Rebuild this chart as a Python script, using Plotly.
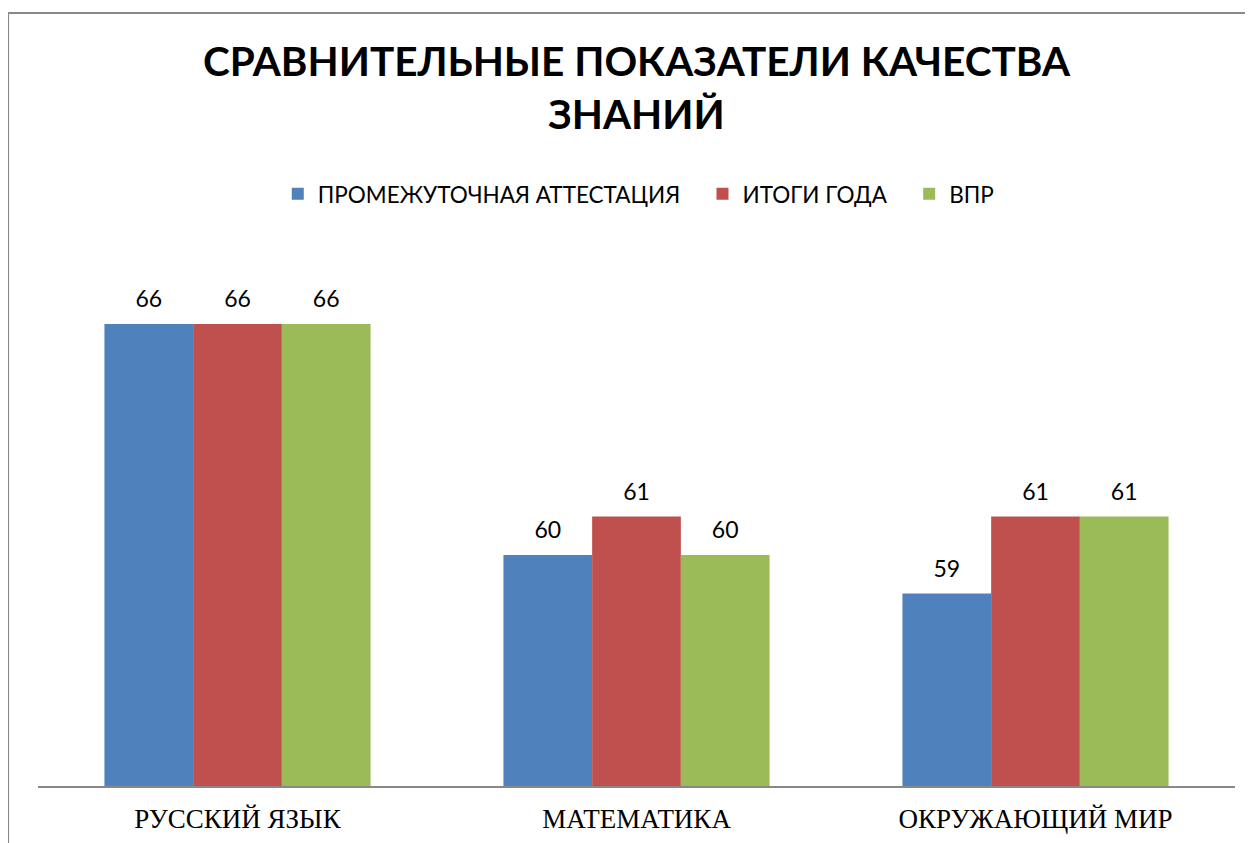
import plotly.graph_objects as go

# chart data
subjects = ["РУССКИЙ ЯЗЫК", "МАТЕМАТИКА", "ОКРУЖАЮЩИЙ МИР"]
series_names = ["ПРОМЕЖУТОЧНАЯ АТТЕСТАЦИЯ", "ИТОГИ ГОДА", "ВПР"]
interim = [66, 60, 59]
year_results = [66, 61, 61]
vpr = [66, 60, 61]
series_values = [interim, year_results, vpr]
colors = ["#4F81BD", "#C0504D", "#9BBB59"]

fig = go.Figure()

for i, (name, values, color) in enumerate(zip(series_names, series_values, colors)):
    fig.add_trace(
        go.Bar(
            x=subjects,
            y=values,
            name=name + "\u00a0" * 3,
            marker={"color": color, "line": {"width": 0}},
            offsetgroup=str(i),
        )
    )

# value labels as grouped scatters (invisible markers push the text up a bit)
for i, values in enumerate(series_values):
    fig.add_trace(
        go.Scatter(
            x=subjects,
            y=values,
            mode="markers+text",
            text=values,
            textposition="top center",
            textfont={"family": "Lato", "size": 23, "color": "black"},
            marker={"size": 16, "color": "rgba(0,0,0,0)"},
            offsetgroup=str(i),
            showlegend=False,
            cliponaxis=False,
            hoverinfo="skip",
        )
    )

# outer chart frame (cropped at right and bottom like the original)
fig.add_shape(
    type="rect",
    xref="paper",
    yref="paper",
    x0=-0.025,
    x1=1.2,
    y0=-0.3,
    y1=1.434,
    line={"color": "#898989", "width": 2},
    fillcolor="rgba(0,0,0,0)",
    layer="below",
)

fig.update_layout(
    width=1253,
    height=843,
    margin={"l": 30, "r": 26, "t": 239, "b": 65, "autoexpand": False},
    paper_bgcolor="white",
    plot_bgcolor="white",
    barmode="group",
    scattermode="group",
    bargap=0.333,
    bargroupgap=0,
    scattergap=0.333,
    title={
        "text": "<b>СРАВНИТЕЛЬНЫЕ ПОКАЗАТЕЛИ КАЧЕСТВА<br>ЗНАНИЙ</b>",
        "x": 0.5,
        "xref": "paper",
        "xanchor": "center",
        "y": 1 - 68 / 843,
        "yanchor": "top",
        "font": {"family": "Lato", "size": 40.5, "color": "black"},
    },
    legend={
        "orientation": "h",
        "x": 0.509,
        "xanchor": "center",
        "y": 1.098,
        "yanchor": "middle",
        "font": {"family": "Lato", "size": 22.5, "color": "black"},
        "itemwidth": 30,
        "traceorder": "normal",
    },
    showlegend=True,
)

fig.update_xaxes(
    showline=True,
    linecolor="#888888",
    linewidth=1.5,
    ticks="",
    showgrid=False,
    tickfont={"family": "Liberation Serif", "size": 27, "color": "black"},
    ticklabelstandoff=8,
)
fig.update_yaxes(
    range=[54, 68],
    visible=False,
    showgrid=False,
)

fig.write_html("out.html")
